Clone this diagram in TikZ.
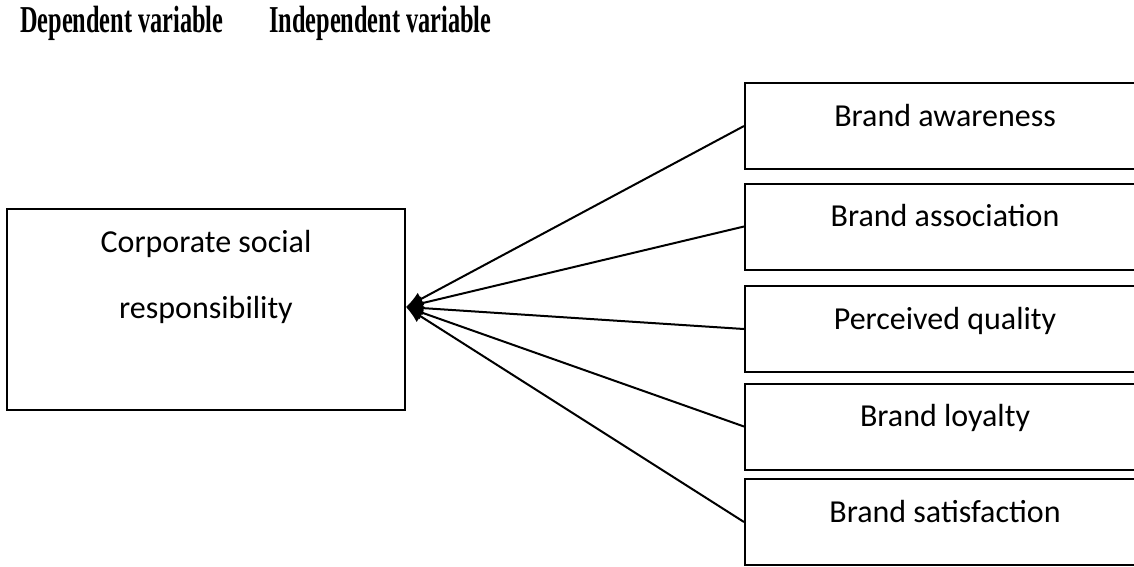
\documentclass[tikz,border=0pt]{standalone}
\usepackage{fontspec}
\setmainfont{Carlito}
\newfontfamily\headfont{Liberation Serif}
\usetikzlibrary{arrows.meta,positioning}

\begin{document}
\begin{tikzpicture}[x=1pt, y=-1pt,
    varbox/.style={draw, line width=2pt, minimum width=400pt, minimum height=86pt, anchor=west,
        font=\fontsize{32}{38}\selectfont, text height=20pt, text depth=20pt, inner sep=0pt},
    heading/.style={anchor=base west, inner sep=0pt, font=\headfont\bfseries\fontsize{38}{42}\selectfont},
    link/.style={line width=2pt, -{Latex[length=17pt,width=14pt]}}]
                        \useasboundingbox (0,0) rectangle (1134,566);
                        \node (dep) [heading] at (20,32) {\scalebox{0.64}[1]{Dependent variable}};
                        \node (indep) [heading] at (269,32) {\scalebox{0.64}[1]{Independent variable}};
                        \node (csr) [draw, line width=2pt, minimum width=398pt, minimum height=201pt, align=center,
                            font=\fontsize{32}{66}\selectfont, text height=21pt, text depth=4pt, inner sep=0pt]
                            at (206,309.5) {Corporate social\\responsibility};
                        \node (aware) [varbox] at (744,126) {Brand awareness};
                        \node (assoc) [varbox] at (744,226.5) {Brand association};
                        \node (quality) [varbox] at (744,329) {Perceived quality};
                        \node (loyal) [varbox] at (744,426.5) {Brand loyalty};
                        \node (satis) [varbox] at (744,522) {Brand satisfaction};
                        \foreach \v in {aware,assoc,quality,loyal,satis}
                            \draw[link] (\v.west) -- ([yshift=2.5pt]csr.east);
                    \end{tikzpicture}
\end{document}
